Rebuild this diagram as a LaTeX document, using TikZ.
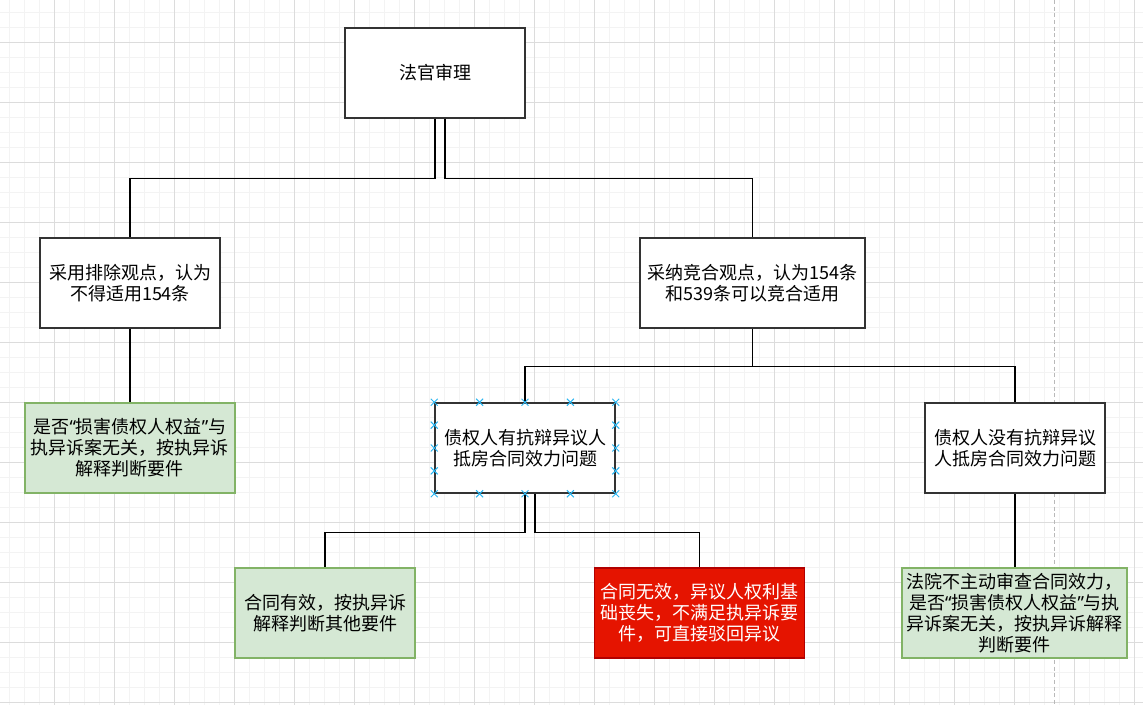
\documentclass[tikz,border=0pt]{standalone}
\usepackage{fontspec}
\newfontfamily\cjk{Noto Sans CJK SC}
\newfontfamily\latq{Noto Sans}
\newcommand{\qopen}{{\latq “}}
\newcommand{\qclose}{{\latq ”}}
\usetikzlibrary{calc,shapes.misc}
\definecolor{gridmajor}{HTML}{DCDCDC}
\definecolor{gridminor}{HTML}{F3F3F3}
\definecolor{boxline}{HTML}{333333}
\definecolor{okfill}{HTML}{D5E8D4}
\definecolor{okline}{HTML}{82B366}
\definecolor{nofill}{HTML}{E51400}
\definecolor{noline}{HTML}{B20000}
\definecolor{handle}{HTML}{29B6F2}

\begin{document}
\begin{tikzpicture}[x=0.75pt,y=-0.75pt,
  box/.style={rectangle,draw=boxline,line width=1.1pt,fill=white,minimum width=135pt,minimum height=67.5pt,inner sep=0pt,align=center,font=\cjk\fontsize{13.5}{15.7}\selectfont},
  okbox/.style={box,draw=okline,fill=okfill},
  nobox/.style={box,draw=noline,fill=nofill,text=white},
  link/.style={line width=1pt,black},
  handlecross/.style={cross out,draw=handle,line width=0.7pt,minimum size=4.5pt,inner sep=0pt}]
\useasboundingbox (0,0) rectangle (1143,705);
\fill[white] (0,0) rectangle (1143,705);
% grid
\foreach \x in {9.5,24.5,...,1143} \draw[gridminor,line width=0.75pt] (\x,0) -- (\x,705);
\foreach \y in {12.5,27.5,...,705} \draw[gridminor,line width=0.75pt] (0,\y) -- (1143,\y);
\foreach \x in {54.5,114.5,...,1143} \draw[gridmajor,line width=0.75pt] (\x,0) -- (\x,705);
\foreach \y in {42.5,102.5,...,705} \draw[gridmajor,line width=0.75pt] (0,\y) -- (1143,\y);
\draw[gray!55,line width=1pt,dash pattern=on 3pt off 2pt] (1054.7,0) -- (1054.7,705);

\node[box] (judge) at (435,73) {法官审理};
\node[box] (exclude) at (130,283) {采用排除观点，认为\\不得适用154条};
\node[box,minimum width=168.75pt] (concur) at (752.5,283) {采纳竞合观点，认为154条\\和539条可以竞合适用};
\node[okbox,minimum width=157.5pt] (irrelevant) at (130,448) {是否\qopen 损害债权人权益\qclose 与\\执异诉案无关，按执异诉\\解释判断要件};
\node[box] (defend) at (525,448) {债权人有抗辩异议人\\抵房合同效力问题};
\node[box] (nodefend) at (1015,448) {债权人没有抗辩异议\\人抵房合同效力问题};
\node[okbox] (valid) at (325,613) {合同有效，按执异诉\\解释判断其他要件};
\node[nobox,minimum width=157.5pt] (invalid) at (699.5,613) {合同无效，异议人权利基\\础丧失，不满足执异诉要\\件，可直接驳回异议};
\node[okbox,minimum width=168.75pt] (noreview) at (1014.5,613) {法院不主动审查合同效力，\\是否\qopen 损害债权人权益\qclose 与执\\异诉案无关，按执异诉解释\\判断要件};

\draw[link] (judge.south) -- ++(0,60) -| (exclude.north);
\draw[link] ([xshift=7.5pt]judge.south) -- ++(0,60) -| (concur.north);
\draw[link] (exclude.south) -- (irrelevant.north);
\draw[link] (concur.south) -- ++(0,38) -| (defend.north);
\draw[link] (concur.south) ++(0,38) -| (nodefend.north);
\draw[link] (defend.south) -- ++(0,39) -| (valid.north);
\draw[link] ([xshift=7.5pt]defend.south) -- ++(0,39) -| (invalid.north);
\draw[link] (nodefend.south) -- (nodefend.south |- noreview.north);

% selection handles
\foreach \f in {0,0.25,0.5,0.75,1} {
  \node[handlecross] at ($(defend.north west)!\f!(defend.north east)$) {};
  \node[handlecross] at ($(defend.south west)!\f!(defend.south east)$) {};
}
\foreach \f in {0.25,0.5,0.75} {
  \node[handlecross] at ($(defend.north west)!\f!(defend.south west)$) {};
  \node[handlecross] at ($(defend.north east)!\f!(defend.south east)$) {};
}
\end{tikzpicture}
\end{document}
